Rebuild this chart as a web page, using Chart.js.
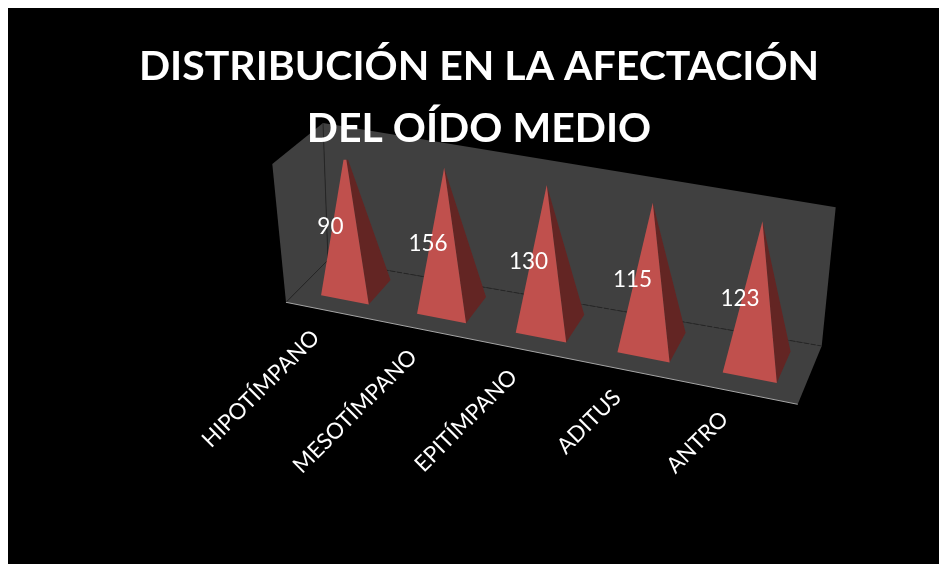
<!DOCTYPE html>
<html lang="es">
<head>
<meta charset="utf-8">
<title>Distribución en la afectación del oído medio</title>
<script src="https://cdn.jsdelivr.net/npm/chart.js@4/dist/chart.umd.js"></script>
<style>
  html, body { margin: 0; background: #fff; overflow: hidden; }
  body { padding: 8px 0 0 8px; }
  canvas { display: block; background: #000; }
</style>
</head>
<body>
<canvas id="chart" width="931" height="556"></canvas>
<script>
const categories = ["HIPOTÍMPANO", "MESOTÍMPANO", "EPITÍMPANO", "ADITUS", "ANTRO"];
const afectacion = [90, 156, 130, 115, 123];
const titleLines = ["DISTRIBUCIÓN EN LA AFECTACIÓN", "DEL OÍDO MEDIO"];

// 100% stacked: each column is its share of the stack, and there is only one series
const stacks = [afectacion];
const percent = afectacion.map((v, i) => 100 * v / stacks.reduce((sum, s) => sum + s[i], 0));

// camera: where the corners of the 3D box land on the canvas (front-left, front-right, back-right, back-left)
const FLOOR = [[278, 294.3], [789.7, 396.3], [813.7, 338], [320, 252]];
const CEILING = [[264.3, 156], [797, 248], [827.7, 199.3], [315, 115]];
const FLOOR_PERSPECTIVE = 0.35;
const APEX_LEAN = 3;

const WALL = "#404040";
const EDGE = "#a6a6a6";
const GRID = "#262626";
const FRONT = "#c0504d";
const SIDE = "#632523";

// unit square -> quad
function squareToQuad(q) {
  const [[x0, y0], [x1, y1], [x2, y2], [x3, y3]] = q;
  const dx1 = x1 - x2, dx2 = x3 - x2, sx = x0 - x1 + x2 - x3;
  const dy1 = y1 - y2, dy2 = y3 - y2, sy = y0 - y1 + y2 - y3;
  const det = dx1 * dy2 - dx2 * dy1;
  const g = (sx * dy2 - dx2 * sy) / det;
  const h = (dx1 * sy - sx * dy1) / det;
  const a = x1 - x0 + g * x1, b = x3 - x0 + h * x3;
  const d = y1 - y0 + g * y1, e = y3 - y0 + h * y3;
  return (u, v) => {
    const w = g * u + h * v + 1;
    return [(a * u + b * v + x0) / w, (d * u + e * v + y0) / w];
  };
}

function lerp(a, b, t) {
  return [a[0] + (b[0] - a[0]) * t, a[1] + (b[1] - a[1]) * t];
}

// the floor reads flatter than a true perspective, so ease it towards a plain bilinear map
const floorPerspective = squareToQuad(FLOOR);
const floorAt = (u, v) => {
  const flat = lerp(lerp(FLOOR[0], FLOOR[1], u), lerp(FLOOR[3], FLOOR[2], u), v);
  return lerp(flat, floorPerspective(u, v), FLOOR_PERSPECTIVE);
};
const ceilingAt = squareToQuad(CEILING);

// u along the categories, depth 0 front to 1 back, h 0 floor to 1 ceiling
function box(u, depth, h) {
  return lerp(floorAt(u, depth), ceilingAt(u, depth), h);
}

// same thing but from pixels on the chart's own scales
function project(chart, px, py, depth) {
  const a = chart.chartArea;
  return box((px - a.left) / a.width, depth, (a.bottom - py) / a.height);
}

function polygon(ctx, pts, fill) {
  ctx.beginPath();
  pts.forEach((p, i) => (i ? ctx.lineTo(p[0], p[1]) : ctx.moveTo(p[0], p[1])));
  ctx.closePath();
  ctx.fillStyle = fill;
  ctx.fill();
}

function line(ctx, a, b, color, dash) {
  ctx.save();
  ctx.strokeStyle = color;
  ctx.lineWidth = 1;
  ctx.setLineDash(dash || []);
  ctx.beginPath();
  ctx.moveTo(a[0], a[1]);
  ctx.lineTo(b[0], b[1]);
  ctx.stroke();
  ctx.restore();
}

class PyramidController extends Chart.BarController {
  draw() {
    const chart = this.chart;
    const ctx = chart.ctx;
    this.getMeta().data.forEach((bar) => {
      const half = bar.width / 2;
      const fl = project(chart, bar.x - half, bar.base, 0.27);
      const fr = project(chart, bar.x + half, bar.base, 0.27);
      const br = project(chart, bar.x + half, bar.base, 0.82);
      const apex = project(chart, bar.x - APEX_LEAN, bar.y, 0.5);
      polygon(ctx, [fr, br, apex], SIDE);
      polygon(ctx, [fl, fr, apex], FRONT);
    });
  }
}
PyramidController.id = "pyramid";
Chart.register(PyramidController);

const walls = {
  id: "walls",
  beforeDraw(chart) {
    const ctx = chart.ctx;
    polygon(ctx, [FLOOR[3], FLOOR[0], CEILING[0], CEILING[3]], WALL);
    polygon(ctx, [FLOOR[3], FLOOR[2], CEILING[2], CEILING[3]], WALL);
    polygon(ctx, FLOOR, WALL);
    line(ctx, FLOOR[3], CEILING[3], GRID);
    line(ctx, FLOOR[3], FLOOR[0], GRID);
    line(ctx, FLOOR[3], FLOOR[2], GRID, [5, 2]);
    line(ctx, FLOOR[0], FLOOR[1], EDGE);
  },
};

const labels = {
  id: "labels",
  afterDatasetsDraw(chart) {
    const ctx = chart.ctx;
    const xs = chart.scales.x;
    ctx.save();
    ctx.fillStyle = "#fff";

    // value labels sit on the pyramid's mid height, pulled to the left
    ctx.font = "22.5px Lato";
    ctx.textAlign = "center";
    ctx.textBaseline = "middle";
    chart.getDatasetMeta(0).data.forEach((bar, i) => {
      const p = project(chart, bar.x, (bar.y + bar.base) / 2, 0.5);
      ctx.fillText(afectacion[i], p[0] - 20, p[1] + 6);
    });

    // category labels run up to the front edge of the floor
    ctx.font = "22.2px Lato";
    ctx.textAlign = "right";
    categories.forEach((name, i) => {
      const a = chart.chartArea;
      const p = box((xs.getPixelForValue(i) - a.left) / a.width, 0, 0);
      ctx.save();
      ctx.translate(p[0] - 18, p[1] + 22);
      ctx.rotate(-Math.PI / 4);
      ctx.fillText(name, 0, 0);
      ctx.restore();
    });
    ctx.restore();
  },
};

new Chart(document.getElementById("chart"), {
  type: "pyramid",
  data: {
    labels: categories,
    datasets: [{
      label: "Afectación",
      data: percent,
      categoryPercentage: 0.5,
      barPercentage: 1,
    }],
  },
  options: {
    responsive: false,
    animation: false,
    layout: { padding: { left: 31, right: 20, top: 0, bottom: 20 } },
    scales: {
      x: { type: "category", display: false },
      y: { type: "linear", display: false, min: 0, max: 100 },
    },
    plugins: {
      legend: { display: false },
      tooltip: { enabled: false },
      title: {
        display: true,
        text: titleLines,
        color: "#fff",
        font: { family: "Lato", size: 41, weight: "bold", lineHeight: 1.51 },
        padding: { top: 28, bottom: 0 },
      },
    },
  },
  plugins: [walls, labels],
});
</script>
</body>
</html>
